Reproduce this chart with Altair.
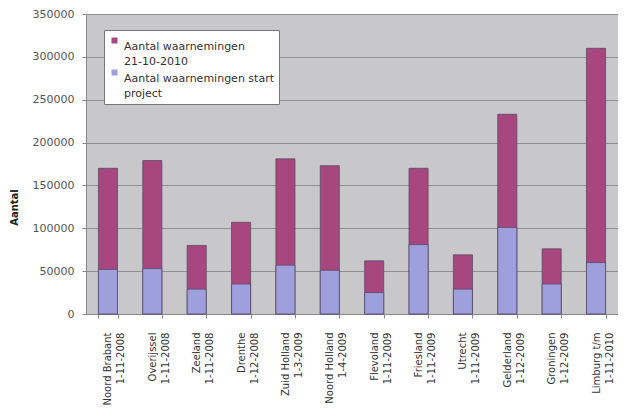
import altair as alt
import pandas as pd

categories = [
    "Noord Brabant|1-11-2008", "Overijssel|1-11-2008", "Zeeland|1-11-2008",
    "Drenthe|1-12-2008", "Zuid Holland|1-3-2009", "Noord Holland|1-4-2009",
    "Flevoland|1-11-2009", "Friesland|1-11-2009", "Utrecht|1-11-2009",
    "Gelderland|1-12-2009", "Groningen|1-12-2009", "Limburg t/m|1-11-2010",
]
totaal_2010 = [170000, 179000, 80000, 107000, 181000, 173000, 62000, 170000, 69000, 233000, 76000, 310000]
start_project = [52000, 53000, 29000, 35000, 57000, 51000, 25000, 81000, 29000, 101000, 35000, 60000]

series = ["Aantal waarnemingen|21-10-2010", "Aantal waarnemingen start|project"]
colors = ["#a8477f", "#9da0dc"]

rows = []
for c, v in zip(categories, totaal_2010):
    rows.append({"cat": c, "series": series[0], "value": v, "ord": 0})
for c, v in zip(categories, start_project):
    rows.append({"cat": c, "series": series[1], "value": v, "ord": 1})
df = pd.DataFrame(rows)

chart = alt.Chart(df).mark_bar(stroke="#5a4a6a", strokeWidth=0.8).encode(
    x=alt.X("cat:N", sort=categories, title=None,
            scale=alt.Scale(paddingInner=0.57, paddingOuter=0.28),
            axis=alt.Axis(labelExpr="split(datum.label, '|')", labelAngle=-90,
                          labelAlign="right", labelBaseline="middle",
                          labelFont="DejaVu Sans", labelFontSize=10, labelLineHeight=13,
                          labelColor="#333333", labelPadding=14,
                          tickBand="extent", tickSize=4, tickColor="#888888",
                          domainColor="#888888", grid=False)),
    y=alt.Y("value:Q", stack=None,
            scale=alt.Scale(domain=[0, 350000], nice=False),
            axis=alt.Axis(values=[0, 50000, 100000, 150000, 200000, 250000, 300000, 350000],
                          format="d", title="Aantal", titleFont="DejaVu Sans",
                          titleFontSize=10, titleFontWeight="bold", titleColor="#222222",
                          titleX=-72, titleY=193, titleAngle=-90, titleAlign="center",
                          titleBaseline="middle",
                          labelFont="DejaVu Sans", labelFontSize=11, labelColor="#555555",
                          labelPadding=8, tickSize=4, tickColor="#888888",
                          domainColor="#888888", gridColor="#8e8f91", gridWidth=1)),
    color=alt.Color("series:N", scale=alt.Scale(domain=series, range=colors),
                    legend=alt.Legend(title=None, orient="none", legendX=18, legendY=16,
                                      labelExpr="split(datum.label, '|')",
                                      labelFont="DejaVu Sans", labelFontSize=11,
                                      labelColor="#333333",
                                      labelLimit=300, labelBaseline="top",
                                      symbolType="square", symbolSize=36,
                                      symbolStrokeWidth=0, symbolOffset=0,
                                      fillColor="white", strokeColor="#777777",
                                      padding=5, rowPadding=0, offset=0)),
    order=alt.Order("ord:Q"),
).properties(
    width=532, height=300,
    background="white",
    autosize=alt.AutoSizeParams(type="none"),
    padding={"left": 78, "top": 6, "right": 0, "bottom": 98},
).configure(
    style={"guide-label": {"lineHeight": 15}}
).configure_view(fill="#c8c8ca", strokeOpacity=0)

chart.save("out.html", embed_options={"renderer": "svg", "actions": False})
